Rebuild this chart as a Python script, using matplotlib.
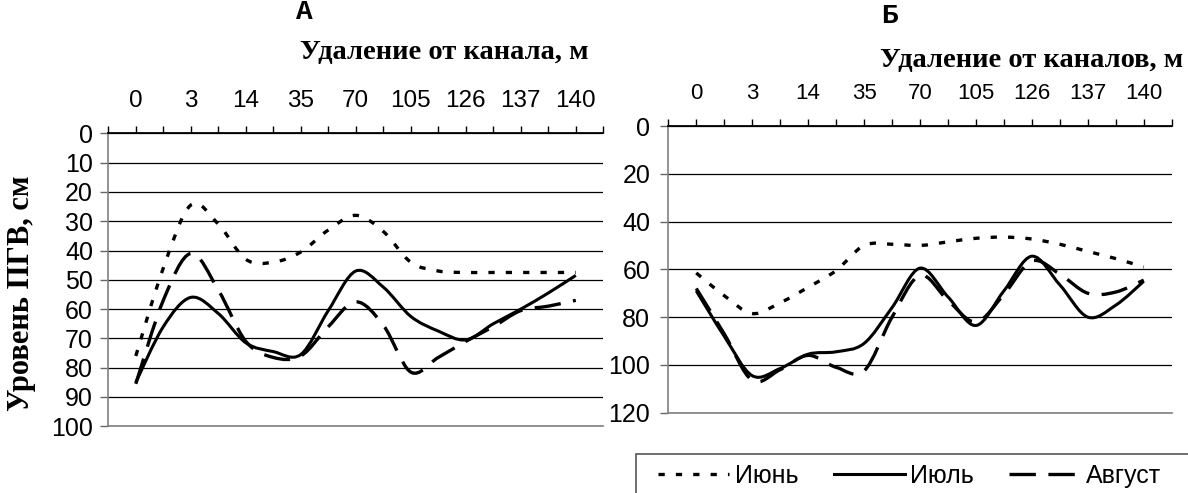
import numpy as np
import matplotlib
matplotlib.use("Agg")
import matplotlib.pyplot as plt
from matplotlib.path import Path
from matplotlib.patches import PathPatch, Rectangle
from matplotlib.lines import Line2D

plt.rcParams["lines.scale_dashes"] = False

# ── Data ────────────────────────────────────────────────────────────────────
dist_labels = ["0", "3", "14", "35", "70", "105", "126", "137", "140"]
n_points = 17                      # labels are shown at every other category

june_a = [76, 46, 24.5, 31, 43, 44, 40.5, 33, 28, 33.5, 44, 47, 47.5, 47.5, 47.5, 47.5, 47.5]
july_a = [85, 66, 56, 61.5, 71.5, 74.5, 75.5, 60.5, 47, 52.5, 62.5, 67.5, 70.5, 65, 60, 54.5, 48.5]
aug_a  = [85.5, 57, 41, 53.5, 71, 76.5, 76, 66, 57.5, 65.5, 81.5, 76.5, 71, 66, 60.5, 59, 57]

june_b = [61.5, 71, 78.5, 74, 67.5, 60.5, 50, 49.5, 50, 48.5, 47, 46.5, 47.3, 49.5, 52.5, 55.5, 59]
july_b = [69, 88, 104.5, 101.5, 95.5, 94.5, 91, 76, 59.5, 71.5, 83.5, 69, 54.5, 66.5, 80, 75, 65]
aug_b  = [68, 87, 106.5, 102, 96, 101, 102.5, 80, 62.5, 73, 82, 70.5, 56.5, 62, 70, 69.5, 64.5]

months = ["Июнь", "Июль", "Август"]
STYLES = {
    "Июнь":   dict(lw=2.4, ls=(0, (4.5, 8))),
    "Июль":   dict(lw=2.2, ls="-"),
    "Август": dict(lw=2.4, ls=(0, (19, 9))),
}

W, H = 1188, 493
fig = plt.figure(figsize=(W / 100, H / 100), dpi=100)

TICK_FONT = "Liberation Sans"
SERIF = "Liberation Serif"


def px_axes(x0, x1, ytop, ybot):
    return fig.add_axes([x0 / W, 1 - ybot / H, (x1 - x0) / W, (ybot - ytop) / H])


def smooth_path(xs, ys):
    # Excel-like smoothed line: Bezier segments through every data point
    p = np.column_stack([xs, ys]).astype(float)
    pp = np.vstack([p[0], p, p[-1]])
    verts, codes = [p[0]], [Path.MOVETO]
    for i in range(1, len(pp) - 2):
        c1 = pp[i] + (pp[i + 1] - pp[i - 1]) / 6
        c2 = pp[i + 1] - (pp[i + 2] - pp[i]) / 6
        verts += [c1, c2, pp[i + 1]]
        codes += [Path.CURVE4] * 3
    return Path(verts, codes)


def setup(ax, ymax, ystep, xfs, yfs, xpad, ypad):
    ax.set_xlim(0, n_points + 1)
    ax.set_ylim(ymax, 0)
    ax.xaxis.tick_top()
    ax.set_xticks(range(n_points + 2))
    labels = [""] * (n_points + 2)
    for k, lab in enumerate(dist_labels):
        labels[1 + 2 * k] = lab
    ax.set_xticklabels(labels, fontsize=xfs, family=TICK_FONT)
    ax.tick_params(axis="x", direction="out", length=5, width=1, pad=xpad, colors="black")
    ax.set_yticks(np.arange(0, ymax + 1, ystep))
    ax.set_yticklabels([str(v) for v in range(0, ymax + 1, ystep)], fontsize=yfs, family=TICK_FONT)
    ax.tick_params(axis="y", direction="out", length=6, width=1, pad=ypad,
                   color="#666666", labelcolor="black")
    ax.grid(axis="y", color="black", lw=0.9)
    ax.set_axisbelow(True)
    ax.spines["right"].set_visible(False)
    ax.spines["bottom"].set_color("#808080")
    ax.spines["bottom"].set_linewidth(1.2)
    ax.spines["left"].set_color("#808080")
    ax.spines["left"].set_linewidth(1.2)
    ax.spines["top"].set_color("black")
    ax.spines["top"].set_linewidth(1.3)


def draw(ax, series):
    xs = np.arange(1, n_points + 1)
    for name, vals in zip(months, series):
        st = STYLES[name]
        ax.add_patch(PathPatch(smooth_path(xs, vals), fill=False, edgecolor="black",
                               lw=st["lw"], linestyle=st["ls"], capstyle="butt",
                               joinstyle="round", zorder=3))


# ── Panel A ─────────────────────────────────────────────────────────────────
ax1 = px_axes(108.3, 603.3, 133.3, 426.3)
setup(ax1, 100, 10, 17.5, 18, 10, 5)
draw(ax1, [june_a, july_a, aug_a])

# ── Panel Б ─────────────────────────────────────────────────────────────────
ax2 = px_axes(668.3, 1171.7, 126, 412.7)
setup(ax2, 120, 20, 16, 18, 11, 7)
draw(ax2, [june_b, july_b, aug_b])

# ── Texts ───────────────────────────────────────────────────────────────────
fig.text(304 / W, 1 - 12 / H, "А", family="Liberation Mono", weight="bold",
         fontsize=20, ha="center", va="center")
fig.text(889 / W, 1 - 16 / H, "Б", family="Liberation Mono", weight="bold",
         fontsize=20, ha="center", va="center")
fig.text(589 / W, 1 - 52 / H, "Удаление от канала, м", family=SERIF, weight="bold",
         fontsize=20.5, ha="right", va="center")
fig.text(1183 / W, 1 - 60 / H, "Удаление от каналов, м", family=SERIF, weight="bold",
         fontsize=20.5, ha="right", va="center")
fig.text(22 / W, 1 - 293 / H, "Уровень ПГВ, см", family=SERIF, weight="bold",
         fontsize=22, ha="center", va="center", rotation=90)

# ── Legend ──────────────────────────────────────────────────────────────────
fig.patches.append(Rectangle((636 / W, -0.05), 0.5, 1.05 - 454 / H,
                             transform=fig.transFigure, fill=False,
                             edgecolor="#555555", lw=1.2))
handles = [Line2D([], [], color="black", lw=STYLES[m]["lw"], linestyle=STYLES[m]["ls"],
                  dash_capstyle="butt") for m in months]
fig.legend(handles, months, loc="center left", bbox_to_anchor=(658 / W, 1 - 476 / H),
           ncol=3, frameon=False, borderpad=0, borderaxespad=0,
           handlelength=2.84, handletextpad=0.24, columnspacing=1.4,
           prop={"family": TICK_FONT, "size": 18})

fig.savefig("out.png", dpi=100)
